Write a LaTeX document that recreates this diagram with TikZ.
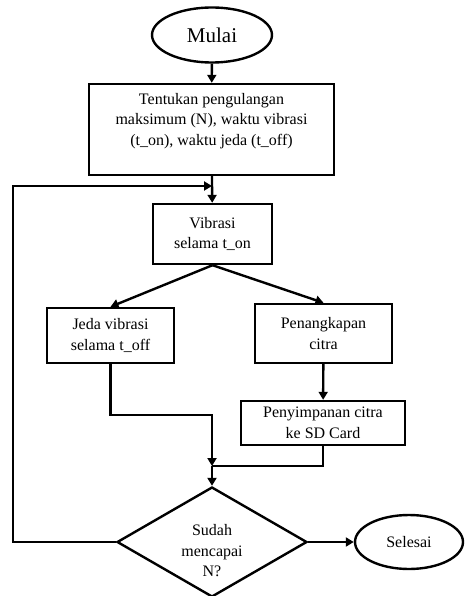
\documentclass[tikz,border=0pt]{standalone}
\usepackage{fontspec}
\setmainfont{Liberation Serif}
\usepackage{tikz}
\usetikzlibrary{shapes.geometric,arrows.meta}

\begin{document}
\begin{tikzpicture}[x=1pt, y=-1pt, line width=2.4pt,
        >={Triangle[length=8pt,width=9pt]},
        every node/.style={font=\fontsize{16}{20.5}\selectfont, align=center, inner sep=0pt},
        proses/.style={draw, rectangle},
        terminal/.style={draw, ellipse},
        keputusan/.style={draw, diamond}]
            \useasboundingbox (0,0) rectangle (464,596);

            % Main components
            \node[terminal, minimum width=120pt, minimum height=55pt, font=\fontsize{21}{25}\selectfont] (mulai) at (212,35) {Mulai};
            \node[proses, minimum width=245pt, minimum height=91pt] (init) at (211.5,129.5) {Tentukan pengulangan\\maksimum (N), waktu vibrasi\\(t\_on), waktu jeda (t\_off)\\~};
            \node[proses, minimum width=119pt, minimum height=60pt] (vibrasi) at (212.5,234) {Vibrasi\\selama t\_on};
            \node[proses, minimum width=127pt, minimum height=55pt] (jeda) at (110.5,335.5) {Jeda vibrasi\\selama t\_off};
            \node[proses, minimum width=137pt, minimum height=59pt] (tangkap) at (323.5,333.5) {Penangkapan\\citra};
            \node[proses, minimum width=164pt, minimum height=44pt] (simpan) at (323,423) {Penyimpanan citra\\ke SD Card};
            \node[keputusan, minimum width=190pt, minimum height=110pt] (cek) at (212,542) {};
            \node (cektxt) at (212,551) {Sudah\\mencapai\\N?};
            \node[terminal, minimum width=108pt, minimum height=54pt] (selesai) at (409,542) {Selesai};

            \coordinate (kiri) at (13,186);
            \coordinate (masuk) at (212,186);
            \coordinate (belok) at (212,415);
            \coordinate (gabung) at (212,466);

            % Connections
            \draw[->] (mulai) -- (init);
            \draw[->] (init) -- (vibrasi);
            \draw[->] (vibrasi.south) -- (jeda.north);
            \draw[->] (vibrasi.south) -- (tangkap.north);
            \draw[->] (tangkap) -- (simpan);
            \draw[->] (jeda.south) |- (belok) -- (gabung);
            \draw (simpan.south) |- (gabung);
            \draw[->] (gabung) -- (cek.north);
            \draw[->] (cek) -- (selesai);
            \draw[->] (cek.west) -| (kiri) -- (masuk);
        \end{tikzpicture}
\end{document}
